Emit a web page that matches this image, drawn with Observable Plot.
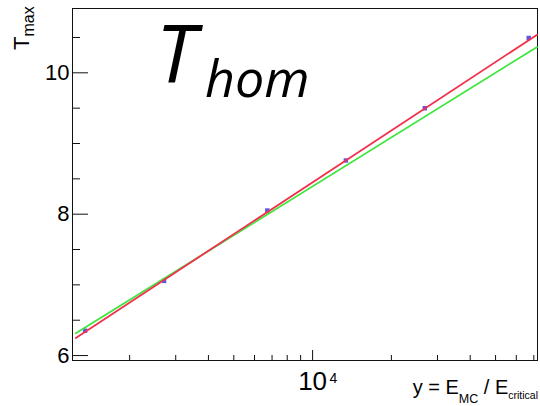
<!DOCTYPE html>
<html>
<head>
<meta charset="utf-8">
<script src="https://cdn.jsdelivr.net/npm/d3@7"></script>
<script src="https://cdn.jsdelivr.net/npm/@observablehq/plot@0.6"></script>
<style>
  body { margin: 0; background: #fff; }
  #chart svg { display: block; }
</style>
</head>
<body>
<div id="chart"></div>
<script>
// Measured shower maximum versus y = E_MC / E_critical
const energyRatio = [1352, 2707, 6714, 13400, 26830, 66930];
const tMax = [6.352, 7.056, 8.052, 8.76, 9.499, 10.493];

// Two fitted lines (straight in log y), given by their end points
const fitX = [1246, 72060];
const fitRed = [6.249, 10.54];
const fitGreen = [6.314, 10.366];

// Tick positions
const yMajorTicks = [6, 8, 10];
const yMinorTicks = [6.5, 7, 7.5, 8.5, 9, 9.5, 10.5];
const xMajorTicks = [10000];
const xMinorTicks = [2000, 3000, 4000, 5000, 6000, 7000, 8000, 9000,
                     20000, 30000, 40000, 50000, 60000, 70000];
const xTickBase = "10";
const xTickExponent = "4";

const W = 540, H = 406;
const mL = 72, mR = 3, mT = 8, mB = 46;
const frameW = W - mL - mR, frameH = H - mT - mB;
const font = "'Liberation Sans', Arial, sans-serif";
const titleFont = "'Open Sans', 'Liberation Sans', sans-serif";

const points = energyRatio.map((x, i) => ({x, y: tMax[i]}));
const redLine = fitX.map((x, i) => ({x, y: fitRed[i]}));
const greenLine = fitX.map((x, i) => ({x, y: fitGreen[i]}));

const chart = Plot.plot({
  width: W,
  height: H,
  marginLeft: mL,
  marginRight: mR,
  marginTop: mT,
  marginBottom: mB,
  style: {fontFamily: font, fontSize: "22px", color: "#000", background: "#fff"},
  x: {type: "log", domain: [1210, 72300], axis: null},
  y: {domain: [5.93, 10.91], axis: null},
  marks: [
    Plot.frame({stroke: "#111", strokeWidth: 1}),
    // inward ticks on the y axis
    Plot.ruleY(yMajorTicks, {y: d => d, insetRight: frameW - 16, stroke: "#111"}),
    Plot.ruleY(yMinorTicks, {y: d => d, insetRight: frameW - 8, stroke: "#111"}),
    // inward ticks on the x axis
    Plot.ruleX(xMajorTicks, {x: d => d, insetTop: frameH - 10, stroke: "#111"}),
    Plot.ruleX(xMinorTicks, {x: d => d, insetTop: frameH - 5, stroke: "#111"}),
    Plot.axisY(yMajorTicks, {tickSize: 0, tickPadding: 3, label: null, fontSize: 22,
      tickFormat: d => String(d)}),
    Plot.text(xMajorTicks, {x: d => d, text: () => xTickBase, frameAnchor: "bottom",
      lineAnchor: "middle", dy: 21, fontSize: 26, fill: "#000"}),
    Plot.text(xMajorTicks, {x: d => d, text: () => xTickExponent, frameAnchor: "bottom",
      lineAnchor: "middle", textAnchor: "start", dx: 17, dy: 18, fontSize: 14, fill: "#000"}),
    Plot.dot(points, {x: "x", y: "y", symbol: "square", r: 2.5, fill: "#5a5ae6", stroke: "none"}),
    Plot.line(greenLine, {x: "x", y: "y", stroke: "#3ee63e", strokeWidth: 1.8}),
    Plot.line(redLine, {x: "x", y: "y", stroke: "#f2304c", strokeWidth: 1.8})
  ]
});

document.getElementById("chart").append(chart);

const svg = d3.select(chart);

// Title inside the frame
svg.append("text")
  .attr("x", 156).attr("y", 83)
  .attr("text-anchor", "start")
  .attr("font-family", titleFont).attr("font-style", "italic").attr("font-weight", 400)
  .attr("font-size", 80).attr("fill", "#000")
  .text("T");
svg.append("text")
  .attr("x", 205).attr("y", 97)
  .attr("text-anchor", "start")
  .attr("font-family", titleFont).attr("font-style", "italic").attr("font-weight", 400)
  .attr("font-size", 52).attr("fill", "#000")
  .text("hom");

// Y axis title: T_max
const yLab = svg.append("text")
  .attr("transform", "translate(28.5,50) rotate(-90)")
  .attr("text-anchor", "start")
  .attr("font-family", font).attr("fill", "#000");
yLab.append("tspan").attr("font-size", 22).text("T");
yLab.append("tspan").attr("font-size", 16).attr("dy", 5).text("max");

// X axis title: y = E_MC / E_critical
const xLab = svg.append("text")
  .attr("x", 538).attr("y", 394)
  .attr("text-anchor", "end")
  .attr("font-family", font).attr("fill", "#000");
xLab.append("tspan").attr("font-size", 20).text("y = E");
xLab.append("tspan").attr("font-size", 12.5).attr("dy", 9).text("MC");
xLab.append("tspan").attr("font-size", 20).attr("dy", -9).text(" / E");
xLab.append("tspan").attr("font-size", 10.5).attr("dy", 5).text("critical");
</script>
</body>
</html>
